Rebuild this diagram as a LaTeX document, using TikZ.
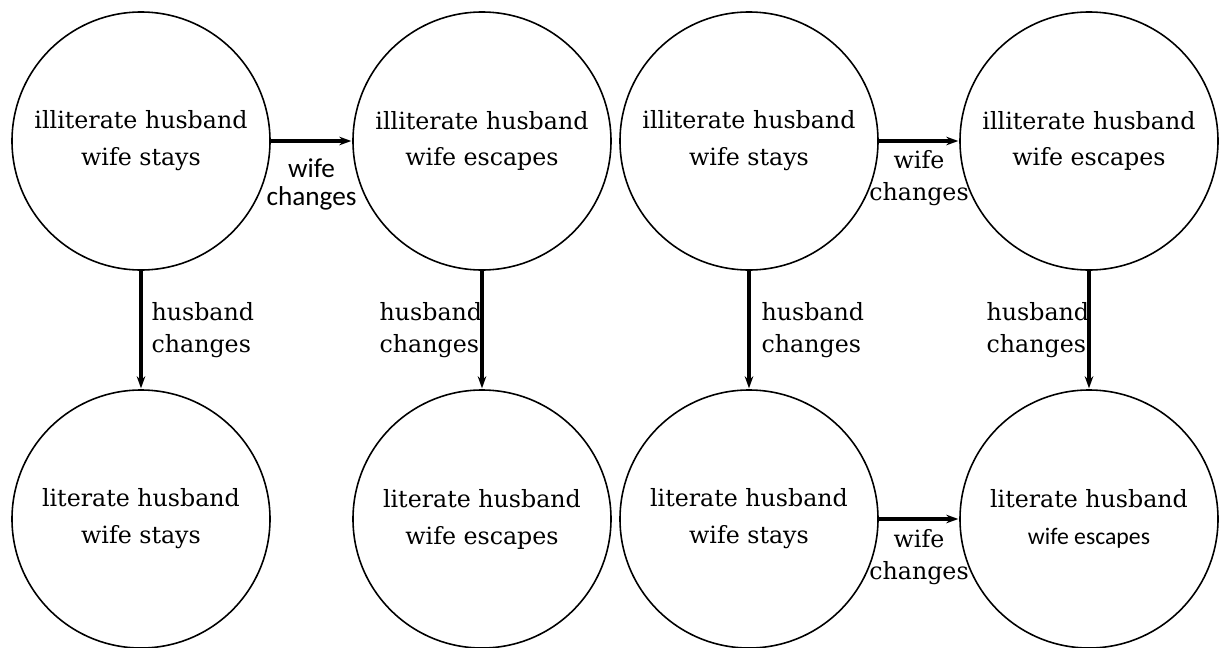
\documentclass[tikz,border=0pt]{standalone}
\usepackage{fontspec}
\setmainfont{DejaVu Serif}
\newfontfamily\calibrifont{Carlito}
\usetikzlibrary{positioning}
\usetikzlibrary{arrows.meta}

\begin{document}
\begin{tikzpicture}[->,>={Stealth[length=2.4mm,width=1.7mm]},shorten >=0.5pt,node distance=7.56cm,
	line width=1.8pt,main node/.style={circle,draw,line width=0.9pt,minimum size=5.16cm,inner sep=0pt,
	align=center,font=\fontsize{13.5}{21}\selectfont},
	lbl/.style={inner sep=0pt,align=left,font=\fontsize{13.5}{18}\selectfont}]

	\useasboundingbox (0,0) rectangle (24.38,-12.96);

	\node[main node] (1) at (2.82,-2.82) {illiterate husband\\wife stays};
	\node[main node] (2) at (9.64,-2.82) {illiterate husband\\wife escapes};
	\node[main node] (3) at (14.98,-2.82) {illiterate husband\\wife stays};
	\node[main node] (4) at (21.78,-2.82) {illiterate husband\\wife escapes};

	\node[main node] (5) [below of=1] {literate husband\\wife stays};
	\node[main node] (6) [below of=2] {literate husband\\wife escapes};
	\node[main node] (7) [below of=3] {literate husband\\wife stays};
	\node[main node] (8) [below of=4] {literate husband\\{\calibrifont\fontsize{13.5}{15}\selectfont wife escapes}};

	\path[every node/.style={lbl}]
	(1) edge node [below=0.32cm,align=center,font=\calibrifont\fontsize{15.5}{16}\selectfont] {wife\\changes} (2)
	edge node [right=0.18cm] {husband\\changes} (5)
	(2) edge node [left=-1pt] {husband\\changes} (6)
	(3) edge node [below=0.16cm,align=center] {wife\\changes} (4)
	edge node [right=0.22cm] {husband\\changes} (7)
	(4) edge node [left=-1pt] {husband\\changes} (8)
	(7) edge node [below=0.18cm,align=center] {wife\\changes} (8);
\end{tikzpicture}
\end{document}
